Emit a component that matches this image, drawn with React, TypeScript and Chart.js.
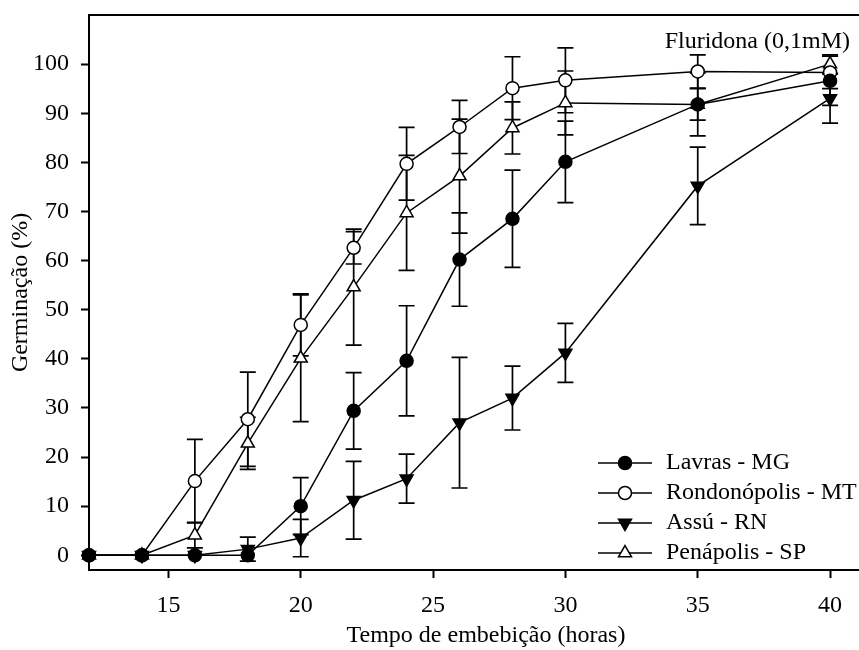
import React, { useEffect, useRef } from 'react';
import { Chart, registerables } from 'chart.js';

Chart.register(...registerables);

// ---- data ----
const hours = [12, 14, 16, 18, 20, 22, 24, 26, 28, 30, 35, 40];

const lavras = [0, 0, 0, 0, 10.0, 29.4, 39.6, 60.2, 68.5, 80.1, 91.8, 96.6];
const lavrasErr = [0, 0, 0, 0, 5.8, 7.8, 11.2, 9.5, 9.9, 8.3, 6.4, 5.0];

const rondonopolis = [0, 0, 15.1, 27.7, 46.9, 62.6, 79.7, 87.2, 95.1, 96.7, 98.5, 98.3];
const rondonopolisErr = [0, 0, 8.5, 9.6, 6.3, 3.3, 7.4, 5.4, 6.4, 6.6, 3.4, 3.3];

const assu = [0, 0, 0, 1.25, 3.5, 11.2, 15.6, 27.0, 32.0, 41.2, 75.2, 93.0];
const assuErr = [0, 0, 0, 2.45, 3.8, 7.9, 5.0, 13.3, 6.5, 6.0, 7.9, 5.0];

const penapolis = [0, 0, 4.1, 22.8, 40.1, 54.6, 69.7, 77.2, 87.0, 92.1, 91.8, 100];
const penapolisErr = [0, 0, 2.6, 5.3, 12.9, 11.8, 11.7, 11.6, 5.3, 6.5, 3.2, 1.9];

const seriesNames = ['Lavras - MG', 'Rondonópolis - MT', 'Assú - RN', 'Penápolis - SP'];
const xTicks = [15, 20, 25, 30, 35, 40];
const yTicks = [0, 10, 20, 30, 40, 50, 60, 70, 80, 90, 100];
const xTitle = 'Tempo de embebição (horas)';
const yTitle = 'Germinação (%)';
const annotationText = 'Fluridona (0,1mM)';

const FONT = "'Liberation Serif', 'Times New Roman', serif";
const FS = 24;
const CANVAS_W = 884; // plot frame continues past the visible 859px, as in the reference
const CANVAS_H = 650;

function drawMarker(ctx: CanvasRenderingContext2D, style: string, rotation: number, r: number, x: number, y: number) {
  ctx.beginPath();
  if (style === 'circle') {
    ctx.arc(x, y, r, 0, Math.PI * 2);
  } else {
    let rad = (rotation * Math.PI) / 180;
    ctx.moveTo(x + Math.sin(rad) * r, y - Math.cos(rad) * r);
    rad += (2 * Math.PI) / 3;
    ctx.lineTo(x + Math.sin(rad) * r, y - Math.cos(rad) * r);
    rad += (2 * Math.PI) / 3;
    ctx.lineTo(x + Math.sin(rad) * r, y - Math.cos(rad) * r);
    ctx.closePath();
  }
  ctx.fill();
  ctx.stroke();
}

const errorBarPlugin = {
  id: 'errorBars',
  beforeDatasetsDraw(chart: any) {
    const { ctx, scales } = chart;
    const xs = scales.x;
    const ys = scales.y;
    ctx.save();
    ctx.strokeStyle = '#000';
    ctx.lineWidth = 1.7;
    chart.data.datasets.forEach((ds: any) => {
      const errs: number[] = ds.errors || [];
      ds.data.forEach((p: any, i: number) => {
        const e = errs[i];
        if (!e) return;
        const px = xs.getPixelForValue(p.x);
        const yt = ys.getPixelForValue(p.y + e);
        const yb = ys.getPixelForValue(p.y - e);
        const hw = 8;
        ctx.beginPath();
        ctx.moveTo(px, yt);
        ctx.lineTo(px, yb);
        ctx.moveTo(px - hw, yt);
        ctx.lineTo(px + hw, yt);
        ctx.moveTo(px - hw, yb);
        ctx.lineTo(px + hw, yb);
        ctx.stroke();
      });
    });
    ctx.restore();
  },
};

const framePlugin = {
  id: 'frameAndLegend',
  afterDraw(chart: any) {
    const { ctx, chartArea } = chart;
    ctx.save();
    // top and right border
    ctx.strokeStyle = '#000';
    ctx.lineWidth = 2;
    ctx.beginPath();
    ctx.moveTo(chartArea.left - 1, chartArea.top);
    ctx.lineTo(chartArea.right, chartArea.top);
    ctx.lineTo(chartArea.right, chartArea.bottom);
    ctx.stroke();

    // annotation text
    ctx.fillStyle = '#000';
    ctx.font = `${FS}px ${FONT}`;
    ctx.textAlign = 'right';
    ctx.textBaseline = 'middle';
    ctx.fillText(annotationText, chartArea.right - 33, chartArea.top + 27);

    // legend
    const lx0 = chartArea.right - 285;
    const lx1 = chartArea.right - 231;
    const tx = chartArea.right - 217;
    const y0 = chartArea.bottom - 107;
    chart.data.datasets.forEach((ds: any, i: number) => {
      const y = y0 + i * 30;
      ctx.strokeStyle = '#000';
      ctx.lineWidth = 1.5;
      ctx.beginPath();
      ctx.moveTo(lx0, y);
      ctx.lineTo(lx1, y);
      ctx.stroke();
      ctx.fillStyle = ds.pointBackgroundColor;
      ctx.strokeStyle = '#000';
      ctx.lineWidth = ds.pointBorderWidth;
      drawMarker(ctx, ds.pointStyle, ds.pointRotation || 0, ds.pointRadius, (lx0 + lx1) / 2, y);
      ctx.fillStyle = '#000';
      ctx.textAlign = 'left';
      ctx.textBaseline = 'middle';
      ctx.fillText(ds.label, tx, y);
    });
    ctx.restore();
  },
};

function makeDataset(label: string, values: number[], errs: number[], style: string, rotation: number, fill: string, radius: number) {
  return {
    label,
    data: hours.map((h, i) => ({ x: h, y: values[i] })),
    errors: errs,
    borderColor: '#000',
    borderWidth: 1.5,
    backgroundColor: fill,
    pointStyle: style,
    pointRotation: rotation,
    pointRadius: radius,
    pointHoverRadius: radius,
    pointBackgroundColor: fill,
    pointBorderColor: '#000',
    pointBorderWidth: 1.5,
    tension: 0,
    fill: false,
    clip: false as any,
  };
}

function zeroPadding(scale: any) {
  scale.paddingTop = 0;
  scale.paddingBottom = 0;
  scale.paddingLeft = 0;
  scale.paddingRight = 0;
}

export default function App() {
  const ref = useRef<HTMLCanvasElement | null>(null);

  useEffect(() => {
    if (!ref.current) return;
    const chart = new Chart(ref.current, {
      type: 'line',
      data: {
        datasets: [
          makeDataset(seriesNames[0], lavras, lavrasErr, 'circle', 0, '#000', 6.5),
          makeDataset(seriesNames[1], rondonopolis, rondonopolisErr, 'circle', 0, '#fff', 6.5),
          makeDataset(seriesNames[2], assu, assuErr, 'triangle', 180, '#000', 7.5),
          makeDataset(seriesNames[3], penapolis, penapolisErr, 'triangle', 0, '#fff', 7.5),
        ] as any,
      },
      options: {
        responsive: false,
        animation: false,
        layout: { autoPadding: false, padding: { left: 0, right: 1, top: 15, bottom: 0 } },
        plugins: {
          legend: { display: false },
          tooltip: { enabled: false },
          title: { display: false },
        },
        scales: {
          x: {
            type: 'linear',
            min: 12,
            max: 42,
            afterBuildTicks: (scale: any) => {
              scale.ticks = xTicks.map((v) => ({ value: v }));
            },
            afterFit: (scale: any) => {
              scale.height = 80;
              zeroPadding(scale);
            },
            border: { display: true, color: '#000', width: 2 },
            grid: {
              display: true,
              drawOnChartArea: false,
              drawTicks: true,
              tickLength: 8,
              tickColor: '#000',
              tickWidth: 2,
              color: '#000',
            },
            ticks: {
              color: '#000',
              padding: 13,
              maxRotation: 0,
              autoSkip: false,
              font: { family: FONT, size: FS },
            },
            title: {
              display: true,
              text: xTitle,
              color: '#000',
              padding: { top: 0, bottom: 0 },
              font: { family: FONT, size: FS, lineHeight: 1.15 },
            },
          },
          y: {
            type: 'linear',
            min: -3,
            max: 110,
            afterBuildTicks: (scale: any) => {
              scale.ticks = yTicks.map((v) => ({ value: v }));
            },
            afterFit: (scale: any) => {
              scale.width = 89;
              zeroPadding(scale);
            },
            border: { display: true, color: '#000', width: 2 },
            grid: {
              display: true,
              drawOnChartArea: false,
              drawTicks: true,
              tickLength: 8,
              tickColor: '#000',
              tickWidth: 2,
              color: '#000',
            },
            ticks: {
              color: '#000',
              padding: 12,
              autoSkip: false,
              font: { family: FONT, size: FS },
            },
            title: {
              display: true,
              text: yTitle,
              color: '#000',
              padding: { top: 7, bottom: 0 },
              font: { family: FONT, size: FS, lineHeight: 1.15 },
            },
          },
        },
      },
      plugins: [errorBarPlugin, framePlugin],
    });
    return () => chart.destroy();
  }, []);

  return (
    <div style={{ position: 'fixed', left: 0, top: 0, width: 859, height: 650, background: '#fff', overflow: 'hidden' }}>
      <canvas ref={ref} width={CANVAS_W} height={CANVAS_H} style={{ width: CANVAS_W, height: CANVAS_H, display: 'block' }} />
    </div>
  );
}
